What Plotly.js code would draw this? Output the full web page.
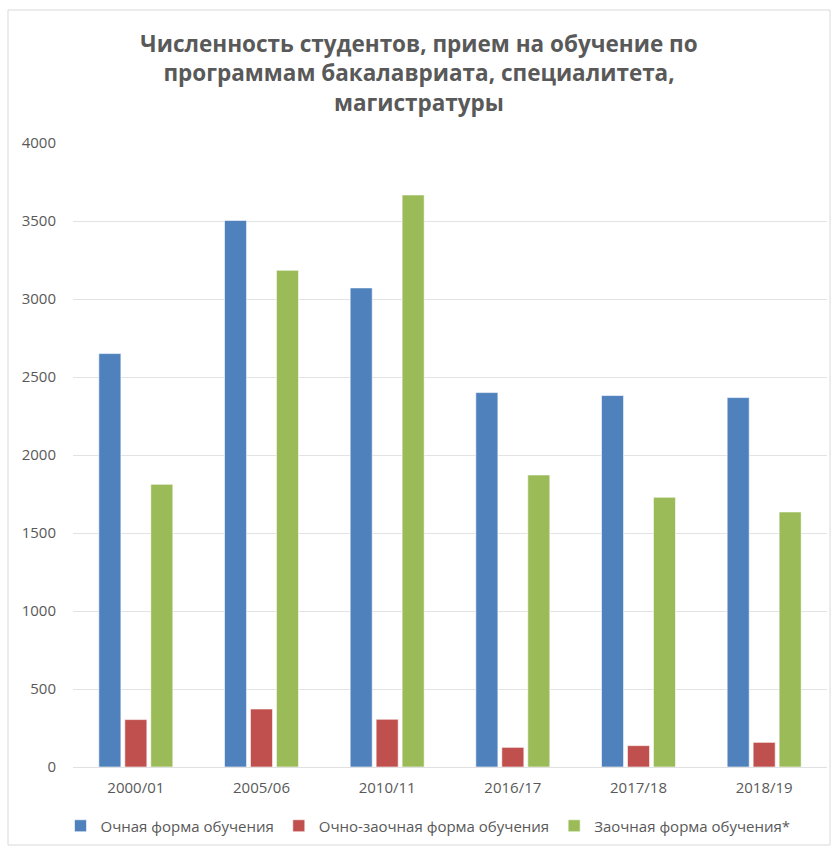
<!DOCTYPE html>
<html>
<head>
<meta charset="utf-8">
<script src="https://cdn.plot.ly/plotly-3.0.1.min.js"></script>
<style>html,body{margin:0;padding:0;background:#fff}#chart{width:838px;height:847px}</style>
</head>
<body>
<div id="chart"></div>
<script>
const categories = ["2000/01", "2005/06", "2010/11", "2016/17", "2017/18", "2018/19"];
const fullTime = [2650, 3504, 3071, 2400, 2381, 2368];
const partTime = [304, 372, 306, 126, 137, 158];
const extramural = [1812, 3184, 3667, 1872, 1729, 1635];
const seriesNames = ["Очная форма обучения", "Очно-заочная форма обучения", "Заочная форма обучения*"];
const tickVals = [0, 500, 1000, 1500, 2000, 2500, 3000, 3500, 4000];

const colors = ["#4F81BD", "#C0504D", "#9BBB59"];
const data = [fullTime, partTime, extramural].map((vals, i) => ({
  type: "bar",
  x: categories,
  y: vals,
  name: seriesNames[i],
  marker: {color: colors[i], line: {color: "rgba(255,255,255,0.6)", width: 1}},
  hoverinfo: "y"
}));

const layout = {
  width: 838, height: 847,
  margin: {l: 73, r: 11, t: 143, b: 80, autoexpand: false},
  paper_bgcolor: "#ffffff",
  plot_bgcolor: "#ffffff",
  font: {family: "Open Sans, sans-serif", color: "#595959", size: 15},
  title: {
    text: "Численность студентов, прием на обучение по<br>программам бакалавриата, специалитета,<br>магистратуры",
    font: {family: "Open Sans, sans-serif", size: 22.5, color: "#595959", weight: "bold"},
    x: 0.5, xanchor: "center", y: 1 - 52/847, yanchor: "middle", yref: "container"
  },
  barmode: "group",
  bargap: 0.38,
  bargroupgap: 0.15,
  xaxis: {
    type: "category",
    showgrid: false,
    showline: true, linecolor: "#e0e0e0", linewidth: 1,
    ticks: "",
    tickfont: {size: 15, color: "#595959"},
    ticklabelstandoff: 7,
    zeroline: false
  },
  yaxis: {
    range: [0, 4000],
    tickvals: tickVals,
    showgrid: true, gridcolor: "#e3e3e3", gridwidth: 1,
    showline: false, zeroline: false,
    ticks: "", ticklen: 0,
    tickfont: {size: 15, color: "#595959"},
    ticklabelstandoff: 16
  },
  showlegend: true,
  legend: {
    orientation: "h",
    x: 0.5 - 22/754, xanchor: "center",
    y: -59/624, yanchor: "middle",
    font: {size: 15, color: "#595959"}
  },
  shapes: [{
    type: "rect", xref: "paper", yref: "paper",
    x0: -65/754, x1: 1 + 3/754, y0: -78/624, y1: 1 + 133/624,
    line: {color: "#d9d9d9", width: 1}, fillcolor: "rgba(0,0,0,0)", layer: "below"
  }]
};

Plotly.newPlot("chart", data, layout, {displayModeBar: false, staticPlot: true});
</script>
</body>
</html>
